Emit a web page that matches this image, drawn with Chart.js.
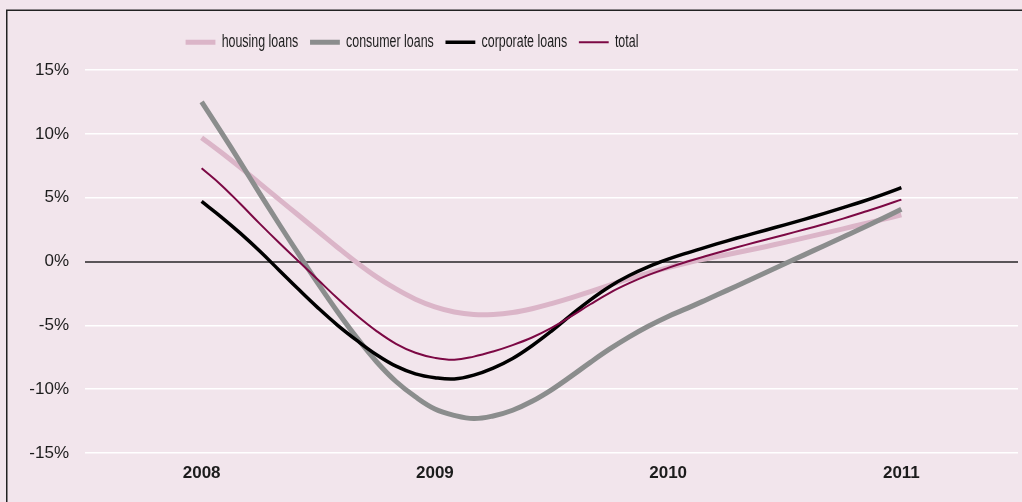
<!DOCTYPE html>
<html>
<head>
<meta charset="utf-8">
<script src="https://cdn.jsdelivr.net/npm/chart.js@4.4.1/dist/chart.umd.min.js"></script>
<style>
  html, body { margin: 0; padding: 0; background: #f2e5ec; overflow: hidden; }
  #wrap { width: 1022px; height: 502px; position: relative; }
</style>
</head>
<body>
<div id="wrap"><canvas id="chart"></canvas></div>
<script>
// Year-on-year growth of loans, monthly observations from Jan 2008 to Jan 2011 (%)
const years = [2008, 2009, 2010, 2011];
const seriesNames = ['housing loans', 'consumer loans', 'corporate loans', 'total'];

const housingLoans = [9.7, 8.55, 7.35, 6.1, 4.85, 3.6, 2.35, 1.1, -0.1, -1.2, -2.15, -2.95, -3.55,
  -3.95, -4.15, -4.15, -4.0, -3.7, -3.3, -2.85, -2.35, -1.85, -1.35, -0.9, -0.48,
  -0.1, 0.23, 0.53, 0.84, 1.16, 1.5, 1.85, 2.2, 2.56, 2.92, 3.28, 3.65];

const consumerLoans = [12.5, 10.15, 7.75, 5.3, 2.9, 0.55, -1.75, -3.95, -6.0, -7.85, -9.4, -10.6, -11.55,
  -12.05, -12.3, -12.1, -11.65, -10.95, -10.05, -9.0, -7.9, -6.85, -5.9, -5.05, -4.3,
  -3.65, -2.97, -2.28, -1.58, -0.88, -0.18, 0.52, 1.22, 1.92, 2.62, 3.35, 4.1];

const corporateLoans = [4.7, 3.5, 2.2, 0.8, -0.7, -2.2, -3.65, -5.0, -6.2, -7.3, -8.2, -8.8, -9.1,
  -9.2, -8.9, -8.35, -7.6, -6.6, -5.45, -4.2, -3.0, -1.95, -1.1, -0.4, 0.18,
  0.68, 1.15, 1.6, 2.03, 2.45, 2.87, 3.3, 3.75, 4.22, 4.7, 5.22, 5.78];

const totalLoans = [7.3, 6.0, 4.5, 2.95, 1.45, 0.0, -1.45, -2.9, -4.25, -5.45, -6.45, -7.15, -7.55,
  -7.7, -7.45, -7.05, -6.55, -5.95, -5.2, -4.3, -3.35, -2.45, -1.7, -1.05, -0.5,
  0.0, 0.45, 0.88, 1.3, 1.7, 2.1, 2.5, 2.92, 3.36, 3.84, 4.33, 4.85];

const yTicks = [-15, -10, -5, 0, 5, 10, 15];

const monthly = values => values.map((v, i) => ({ x: years[0] + i / 12, y: v }));

const BG = '#f2e5ec';
const TEXT = '#1c1c1c';

// Page background and the thin frame around the figure
const framePlugin = {
  id: 'frame',
  beforeDraw(chart) {
    const ctx = chart.ctx;
    ctx.save();
    ctx.fillStyle = BG;
    ctx.fillRect(0, 0, chart.width, chart.height);
    ctx.strokeStyle = '#222';
    ctx.lineWidth = 1.5;
    ctx.beginPath();
    ctx.moveTo(6.75, chart.height + 5);
    ctx.lineTo(6.75, 10.25);
    ctx.lineTo(chart.width + 5, 10.25);
    ctx.stroke();
    ctx.restore();
  }
};

// Legend band of fixed height, a condensed legend typeface, row centred left of the page centre
const LEGEND_CENTER = 412;
const LEGEND_SQUEEZE = 0.71;
const legendPlacement = {
  id: 'legendPlacement',
  beforeInit(chart) {
    const lg = chart.legend;
    const fit = lg.fit;
    lg.fit = function () {
      fit.call(this);
      this.height = 53;
    };
    const draw = lg.draw;
    lg.draw = function (...args) {
      const ctx = this.ctx;
      const cx = (this.left + this.right) / 2;
      ctx.save();
      ctx.translate(cx, 0);
      ctx.scale(LEGEND_SQUEEZE, 1);
      ctx.translate(-cx, 0);
      draw.apply(this, args);
      ctx.restore();
    };
  },
  afterLayout(chart) {
    const lg = chart.legend;
    const dx = (lg.left + lg.right) / 2 - LEGEND_CENTER;
    lg.left -= dx;
    lg.right -= dx;
  }
};

new Chart(document.getElementById('chart'), {
  type: 'line',
  data: {
    datasets: [
      { label: seriesNames[0], data: monthly(housingLoans), borderColor: '#dbb5c8', borderWidth: 5, order: 4 },
      { label: seriesNames[1], data: monthly(consumerLoans), borderColor: '#8b8d8d', borderWidth: 5, order: 3 },
      { label: seriesNames[2], data: monthly(corporateLoans), borderColor: '#000000', borderWidth: 3.5, order: 2 },
      { label: seriesNames[3], data: monthly(totalLoans), borderColor: '#7c0844', borderWidth: 2, order: 1 }
    ]
  },
  options: {
    responsive: true,
    maintainAspectRatio: false,
    animation: false,
    layout: { padding: { top: 17, right: 4, bottom: 0, left: 0 } },
    elements: {
      point: { radius: 0, hoverRadius: 0 },
      line: { tension: 0.4, borderCapStyle: 'butt', fill: false }
    },
    plugins: {
      tooltip: { enabled: false },
      legend: {
        position: 'top',
        align: 'center',
        labels: {
          usePointStyle: true,
          pointStyle: 'line',
          pointStyleWidth: 42,
          padding: 16.5,
          color: TEXT,
          font: { family: '"Liberation Sans", Arial, sans-serif', size: 17.5 },
          sort: (a, b) => a.datasetIndex - b.datasetIndex
        }
      }
    },
    scales: {
      x: {
        type: 'linear',
        min: years[0] - 0.5,
        max: years[years.length - 1] + 0.5,
        afterBuildTicks: scale => { scale.ticks = years.map(v => ({ value: v })); },
        afterFit: scale => { scale.height = 49; },
        grid: { display: false, drawTicks: false },
        border: { display: false },
        ticks: {
          padding: 10,
          color: TEXT,
          maxRotation: 0,
          callback: v => String(v),
          font: { family: '"Liberation Sans", Arial, sans-serif', size: 17, weight: 'bold' }
        }
      },
      y: {
        min: yTicks[0],
        max: yTicks[yTicks.length - 1],
        afterBuildTicks: scale => { scale.ticks = yTicks.map(v => ({ value: v })); },
        afterFit: scale => { scale.width = 85; },
        grid: {
          drawTicks: false,
          color: c => (c.tick && c.tick.value === 0 ? '#5a5558' : '#ffffff'),
          lineWidth: c => (c.tick && c.tick.value === 0 ? 2 : 1.5)
        },
        border: { display: false },
        ticks: {
          padding: 16,
          color: TEXT,
          callback: v => v + '%',
          font: { family: '"Liberation Sans", Arial, sans-serif', size: 17 }
        }
      }
    }
  },
  plugins: [framePlugin, legendPlacement]
});
</script>
</body>
</html>
